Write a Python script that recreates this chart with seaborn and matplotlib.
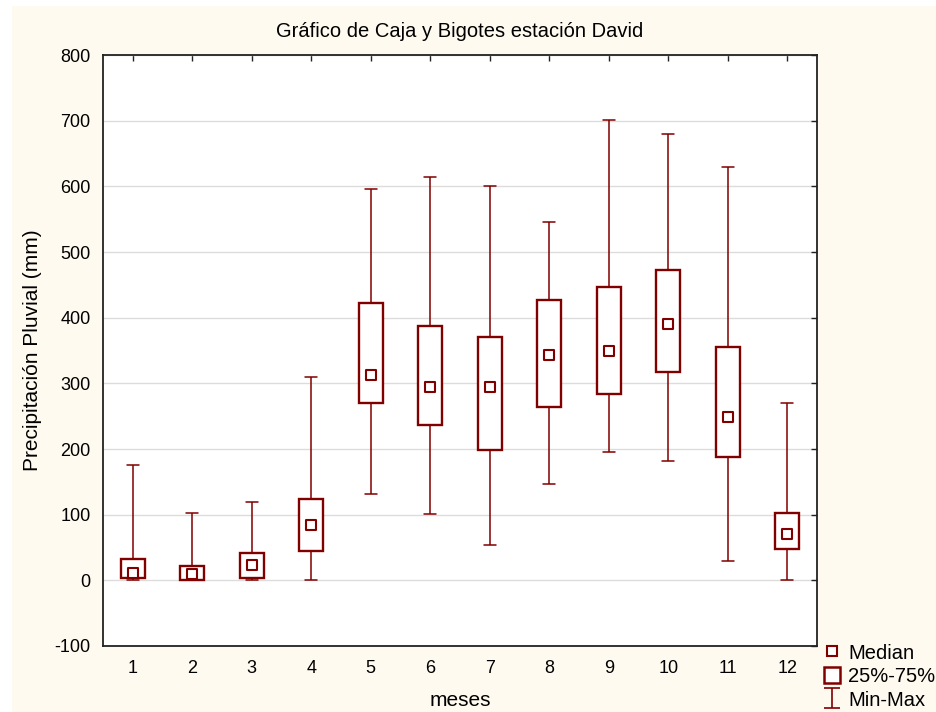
import pandas as pd
import numpy as np
import matplotlib
matplotlib.use("Agg")
import matplotlib.pyplot as plt
from matplotlib.lines import Line2D
from matplotlib.patches import Rectangle
import seaborn as sns

# Monthly rainfall summary (mm), station David
meses = ["1", "2", "3", "4", "5", "6", "7", "8", "9", "10", "11", "12"]
minimos = [0, 0, 0, 0, 132, 101, 54, 146, 196, 182, 30, 0]
q25 = [3, 1, 4, 45, 270, 236, 198, 264, 283, 317, 188, 48]
medianas = [11, 9, 24, 84, 313, 294, 294, 343, 350, 391, 248, 71]
q75 = [33, 22, 42, 124, 422, 387, 371, 427, 447, 472, 355, 102]
maximos = [176, 103, 119, 310, 596, 614, 600, 545, 701, 680, 630, 270]

ROJO = "#800000"
CREMA = "#fffaf0"

# five values per month -> quartiles of these are exactly q25/q75, whiskers = min/max
filas = []
for i, mes in enumerate(meses):
    for v in (minimos[i], q25[i], medianas[i], q75[i], maximos[i]):
        filas.append({"mes": mes, "valor": v})
df = pd.DataFrame(filas)

sns.set_style("white")
plt.rcParams["font.family"] = ["Liberation Sans", "DejaVu Sans"]
plt.rcParams["axes.unicode_minus"] = False
plt.rcParams["text.color"] = "black"
plt.rcParams["axes.labelcolor"] = "black"

fig = plt.figure(figsize=(9.36, 7.12), dpi=100, facecolor="white")
fig.patches.append(Rectangle((12 / 936, 0), 1, 1 - 6 / 712, transform=fig.transFigure,
                             facecolor=CREMA, edgecolor="none", zorder=-10))
ax = fig.add_axes([103 / 936, 1 - 646 / 712, 714 / 936, 591 / 712])
ax.set_facecolor("white")

sns.boxplot(data=df, x="mes", y="valor", order=meses, ax=ax,
            whis=(0, 100), width=0.4, color="white", saturation=1,
            linecolor=ROJO, linewidth=1.7, showfliers=False,
            whiskerprops={"linewidth": 1.1, "color": ROJO},
            capprops={"linewidth": 1.1, "color": ROJO},
            medianprops={"visible": False})

sns.stripplot(x=meses, y=medianas, order=meses, ax=ax, jitter=False,
              marker="s", size=7, color="white", edgecolor=ROJO,
              linewidth=1.5, zorder=5)

ax.set_xlim(-0.5, 11.5)
ax.set_ylim(-100, 800)
ax.set_yticks(np.arange(-100, 801, 100))
ax.yaxis.grid(True, color="#dcdcdc", linewidth=1)
ax.set_axisbelow(True)

for s in ax.spines.values():
    s.set_visible(True)
    s.set_color("#222222")
    s.set_linewidth(1.3)
ax.tick_params(axis="both", which="both", direction="in", length=4, width=1,
               top=True, right=True, labelsize=13, colors="#222222",
               labelcolor="black")
ax.tick_params(axis="x", pad=10)
ax.tick_params(axis="y", pad=9)

ax.set_title("Gráfico de Caja y Bigotes estación David", fontsize=14.5, pad=13)
ax.set_xlabel("meses", fontsize=15, labelpad=10.5)
ax.set_ylabel("Precipitación Pluvial (mm)", fontsize=15, labelpad=9)

# legend handles
barra = ax.errorbar([np.nan], [np.nan], yerr=[1], fmt="none", ecolor=ROJO,
                    elinewidth=1.2, capsize=6, capthick=1.2)
manijas = [
    Line2D([], [], marker="s", ls="none", markersize=7, mfc="white", mec=ROJO, mew=1.5),
    Line2D([], [], marker="s", ls="none", markersize=12, mfc="white", mec=ROJO, mew=1.8),
    barra,
]
fig.legend(manijas, ["Median", "25%-75%", "Min-Max"], loc="upper left",
           bbox_to_anchor=(812 / 936, 1 - 633 / 712), frameon=False, fontsize=14.5,
           borderpad=0, handlelength=1.0, handleheight=0.95, handletextpad=0.3,
           labelspacing=0.2)

fig.savefig("out.png", dpi=100, facecolor=fig.get_facecolor())
